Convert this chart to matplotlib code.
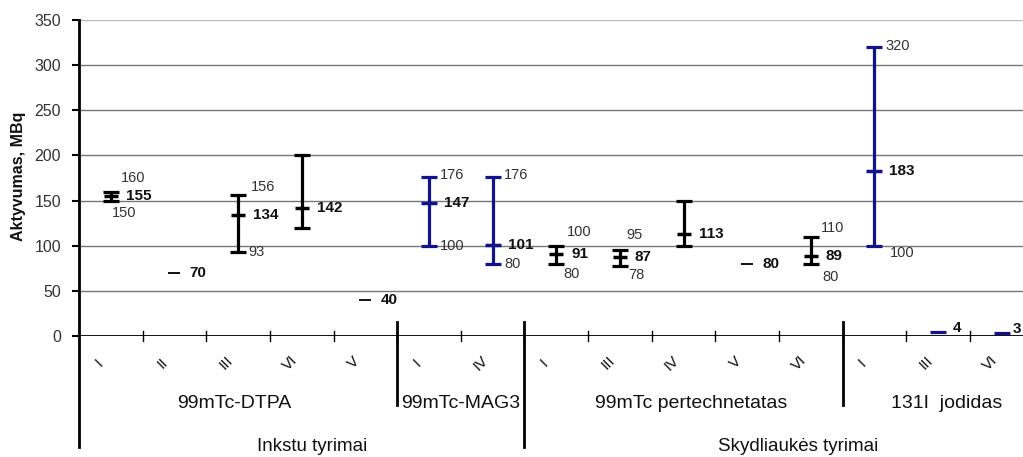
import matplotlib.pyplot as plt
import numpy as np

plt.rcParams['font.family'] = ['Liberation Sans', 'DejaVu Sans']

# data
categories = ['I', 'II', 'III', 'VI', 'V',
              'I', 'IV',
              'I', 'III', 'IV', 'V', 'VI',
              'I', 'III', 'VI']
means = [155, 70, 134, 142, 40,
         147, 101,
         91, 87, 113, 80, 89,
         183, 4, 3]
mins = [150, np.nan, 93, 120, np.nan,
        100, 80,
        80, 78, 100, np.nan, 80,
        100, np.nan, np.nan]
maxs = [160, np.nan, 156, 200, np.nan,
        176, 176,
        100, 95, 150, np.nan, 110,
        320, np.nan, np.nan]
blue = [False, False, False, False, False,
        True, True,
        False, False, False, False, False,
        True, True, True]
groups = ['99mTc-DTPA', '99mTc-MAG3', '99mTc pertechnetatas', '131I  jodidas']
group_sizes = [5, 2, 5, 3]
main_groups = ['Inkstu tyrimai', 'Skydliaukės tyrimai']
main_sizes = [7, 8]

# which min/max values get a text label and where (pixel offsets)
max_lab = {0: (10, 14), 2: (13, 8), 5: (11, 2), 6: (11, 2), 7: (11, 14),
           8: (6, 15), 11: (10, 9), 12: (11, 1)}
min_lab = {0: (1, -12), 2: (10, 0), 5: (11, 0), 6: (12, 0), 7: (7, -10),
           8: (8, -9), 11: (12, -13), 12: (15, -7)}

BLUE = '#12128c'
BLACK = '#000000'

fig = plt.figure(figsize=(10.23, 4.57), dpi=100)
ax = fig.add_axes([79 / 1023, 121 / 457, 954.6 / 1023, 316 / 457])

x = np.arange(len(categories)) + 0.5
ax.set_xlim(0, len(categories))
ax.set_ylim(0, 350)

for i in range(len(categories)):
    c = BLUE if blue[i] else BLACK
    if not np.isnan(mins[i]):
        ax.errorbar(x[i], means[i],
                    yerr=[[means[i] - mins[i]], [maxs[i] - means[i]]],
                    fmt='none', ecolor=c, elinewidth=2.3, capsize=5.5,
                    capthick=2.3, zorder=4)
        ax.plot(x[i], means[i], marker='_', ms=12 if blue[i] else 10.5,
                mew=2.5, color=c, zorder=5)
    else:
        ax.plot(x[i], means[i], marker='_', ms=12 if blue[i] else 9,
                mew=2.3 if blue[i] else 1.3, color=c, zorder=5)
    dy = 4 if means[i] < 10 else 0
    dx = 11 if i == len(categories) - 1 else 15
    ax.annotate(str(means[i]), (x[i], means[i]), xytext=(dx, dy),
                textcoords='offset pixels', ha='left', va='center',
                fontsize=11, fontweight='bold', color='#111111',
                annotation_clip=False)
    if i in max_lab:
        ax.annotate(str(maxs[i]), (x[i], maxs[i]), xytext=max_lab[i],
                    textcoords='offset pixels', ha='left', va='center',
                    fontsize=10.5, color='#333333')
    if i in min_lab:
        ax.annotate(str(mins[i]), (x[i], mins[i]), xytext=min_lab[i],
                    textcoords='offset pixels', ha='left', va='center',
                    fontsize=10.5, color='#333333')

# grid
ax.set_yticks(np.arange(0, 351, 50))
ax.yaxis.grid(True, color='#777777', linewidth=1)
ax.get_ygridlines()[-1].set_color('#bbbbbb')
ax.set_axisbelow(True)
for s in ax.spines.values():
    s.set_visible(False)
ax.axhline(0, color='black', linewidth=2, zorder=3)
ax.tick_params(axis='y', length=5, width=1.5, pad=8, labelsize=11.5,
               labelcolor='#333333')
ax.set_xticks([])

# left axis line, extended below
ax.plot([0, 0], [350, -123], color='black', lw=2, clip_on=False, zorder=6)

# small category ticks
for b in range(1, len(categories)):
    ax.plot([b, b], [5, -5], color='black', lw=1, clip_on=False, zorder=3)

# group separators
edges = np.cumsum(group_sizes)
main_edges = np.cumsum(main_sizes)
for e in edges[:-1]:
    low = -123 if e in main_edges else -76
    ax.plot([e, e], [16, low], color='black', lw=2, clip_on=False, zorder=6)

# category labels
for i, lab in enumerate(categories):
    ax.annotate(lab, (x[i], 0), xytext=(-12, -27), textcoords='offset pixels',
                ha='center', va='center', rotation=45, fontsize=11,
                color='#111111', annotation_clip=False)

# group labels
start = 0
group_dx = [-4, 0, 8, 8]
for g, n, dx in zip(groups, group_sizes, group_dx):
    ax.annotate(g, (start + n / 2, 0), xytext=(dx, -68),
                textcoords='offset pixels', ha='center', va='center',
                fontsize=14, color='#111111', annotation_clip=False)
    start += n
start = 0
main_dx = [10, 19]
for g, n, dx in zip(main_groups, main_sizes, main_dx):
    ax.annotate(g, (start + n / 2, 0), xytext=(dx, -119),
                textcoords='offset pixels', ha='center', va='bottom',
                fontsize=13.5, color='#111111', annotation_clip=False)
    start += n

fig.text(19 / 1023, 1 - 176 / 457, 'Aktyvumas, MBq', rotation=90,
         ha='center', va='center', fontsize=11.5, fontweight='bold',
         color='#111111')

plt.savefig('out.png', dpi=100)
